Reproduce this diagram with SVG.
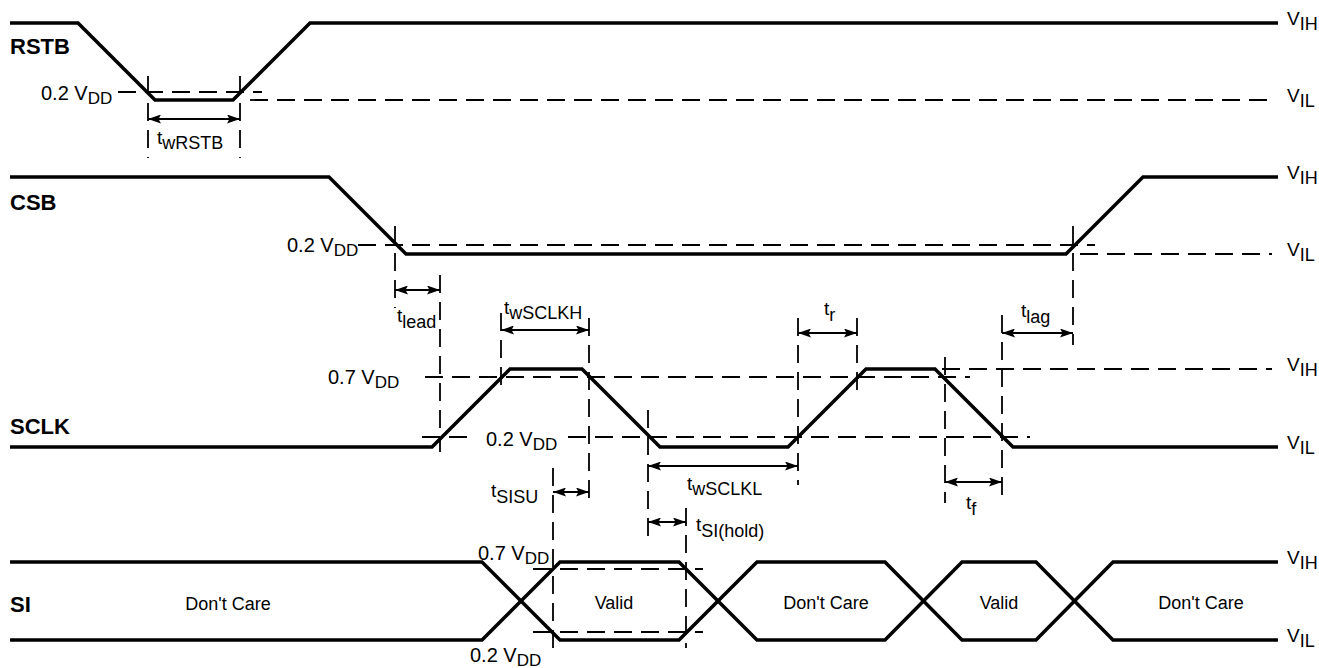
<svg xmlns="http://www.w3.org/2000/svg" width="1319" height="668" viewBox="0 0 1319 668">
<defs>
<marker id="ah" viewBox="0 0 13 9" refX="13" refY="4.5" markerWidth="13" markerHeight="9" markerUnits="userSpaceOnUse" orient="auto-start-reverse">
<path d="M0 0 L13 4.5 L0 9 L2.5 4.5 z" fill="#000"/>
</marker>
</defs>
<style>
.sig{fill:none;stroke:#000;stroke-width:3.5;stroke-linejoin:miter}
.dash{fill:none;stroke:#000;stroke-width:1.8;stroke-dasharray:18 9}
.arr{stroke:#000;stroke-width:2.2;marker-start:url(#ah);marker-end:url(#ah)}
text{font-family:"Liberation Sans",Arial,sans-serif;fill:#000}
.nm{font-size:22px;font-weight:bold}
.lv{font-size:20px}
.lv .s{font-size:17px}
.t{font-size:19px}
.t .s{font-size:18px}
.vr{font-size:19px}
.vr .s{font-size:18px}
.dc{font-size:18px;text-anchor:middle}
</style>
<rect width="1319" height="668" fill="#fff"/>

<g id="rstb">
<text class="nm" x="10" y="54">RSTB</text>
<path class="sig" d="M10 23 H78 L155 100 H233 L310 23 H1278"/>
<path class="dash" d="M118 92 H262"/>
<path class="dash" d="M250 100 H1272"/>
<path class="dash" d="M148 76 V158 M240 76 V158"/>
<text class="lv" x="41" y="100">0.2 V<tspan class="s" dy="4">DD</tspan></text>
<text class="vr" x="1287" y="25">V<tspan class="s" dy="5">IH</tspan></text>
<text class="vr" x="1287" y="102">V<tspan class="s" dy="5">IL</tspan></text>
<text class="t" x="157" y="144">t<tspan class="s" dy="5">wRSTB</tspan></text>
</g>

<g id="csb">
<text class="nm" x="10" y="210">CSB</text>
<path class="sig" d="M10 177 H329 L406 254 H1066 L1143 177 H1278"/>
<path class="dash" d="M358 245 H1095"/>
<path class="dash" d="M1080 254 H1272"/>
<path class="dash" d="M395 226 V308 M1073 226 V345"/>
<text class="lv" x="287" y="252">0.2 V<tspan class="s" dy="4">DD</tspan></text>
<text class="vr" x="1287" y="179">V<tspan class="s" dy="5">IH</tspan></text>
<text class="vr" x="1287" y="256">V<tspan class="s" dy="5">IL</tspan></text>
<text class="t" x="397" y="322">t<tspan class="s" dy="6">lead</tspan></text>
<text class="t" x="1021" y="317">t<tspan class="s" dy="6">lag</tspan></text>
</g>

<g id="sclk">
<text class="nm" x="10" y="434">SCLK</text>
<path class="sig" d="M10 447 H432 L510 369 H582 L660 447 H788 L866 369 H935 L1013 447 H1278"/>
<path class="dash" d="M425 377 H970"/>
<path class="dash" d="M942 369 H1272"/>
<path class="dash" d="M422 437 H470 M568 437 H1030"/>
<path class="dash" d="M440 275 V452 M501 313 V390 M589 318 V503 M648 410 V540 M798 318 V485 M857 318 V390 M945 357 V503 M1002 315 V503"/>
<text class="lv" x="328" y="384">0.7 V<tspan class="s" dy="4">DD</tspan></text>
<text class="lv" x="486" y="446">0.2 V<tspan class="s" dy="4">DD</tspan></text>
<text class="vr" x="1287" y="371">V<tspan class="s" dy="5">IH</tspan></text>
<text class="vr" x="1287" y="449">V<tspan class="s" dy="5">IL</tspan></text>
<text class="t" x="504" y="314">t<tspan class="s" dy="5">wSCLKH</tspan></text>
<text class="t" x="824" y="315">t<tspan class="s" dy="6">r</tspan></text>
<text class="t" x="687" y="490">t<tspan class="s" dy="5">wSCLKL</tspan></text>
<text class="t" x="966" y="509">t<tspan class="s" dy="6">f</tspan></text>
</g>

<g id="si">
<text class="nm" x="10" y="612">SI</text>
<path class="sig" d="M10 562 H482 L560 640 H679 L757 562 H885 L962 640 H1036 L1113 562 H1278"/>
<path class="sig" d="M10 640 H482 L560 562 H679 L757 640 H885 L962 562 H1036 L1113 640 H1278"/>
<path class="dash" d="M533 569 H703 M533 632 H703"/>
<path class="dash" d="M553 468 V648 M686 508 V648"/>
<text class="lv" x="478" y="560">0.7 V<tspan class="s" dy="4">DD</tspan></text>
<text class="lv" x="470" y="662">0.2 V<tspan class="s" dy="4">DD</tspan></text>
<text class="vr" x="1287" y="564">V<tspan class="s" dy="5">IH</tspan></text>
<text class="vr" x="1287" y="642">V<tspan class="s" dy="5">IL</tspan></text>
<text class="dc" x="228" y="610">Don't Care</text>
<text class="dc" x="614" y="609">Valid</text>
<text class="dc" x="826" y="609">Don't Care</text>
<text class="dc" x="999" y="609">Valid</text>
<text class="dc" x="1201" y="609">Don't Care</text>
<text class="t" x="491" y="497">t<tspan class="s" dy="6">SISU</tspan></text>
<text class="t" x="696" y="531">t<tspan class="s" dy="6">SI(hold)</tspan></text>
</g>

<g id="connectors">
<line class="arr" x1="148" y1="119" x2="240" y2="119"/>
<line class="arr" x1="395" y1="290" x2="440" y2="290"/>
<line class="arr" x1="501" y1="330" x2="589" y2="330"/>
<line class="arr" x1="798" y1="333" x2="857" y2="333"/>
<line class="arr" x1="1002" y1="333" x2="1073" y2="333"/>
<line class="arr" x1="648" y1="466" x2="798" y2="466"/>
<line class="arr" x1="553" y1="492" x2="589" y2="492"/>
<line class="arr" x1="648" y1="522" x2="686" y2="522"/>
<line class="arr" x1="945" y1="482" x2="1002" y2="482"/>
</g>
</svg>
